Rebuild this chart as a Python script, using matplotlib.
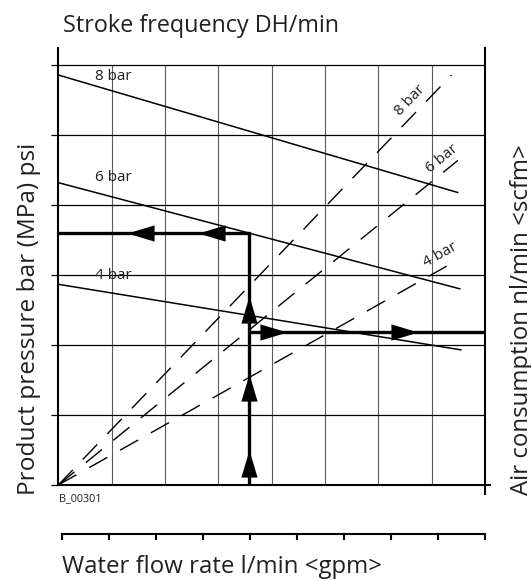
import matplotlib
matplotlib.use("Agg")
import matplotlib.pyplot as plt
import numpy as np
from matplotlib.path import Path
from matplotlib.transforms import Affine2D

# ---------------- data (grid units) ----------------
levels = ["8 bar", "6 bar", "4 bar"]
# product pressure lines (solid)
prod_x0 = [0.0, 0.0, 0.0]
prod_y0 = [5.857, 4.319, 2.867]
prod_x1 = [7.50, 7.54, 7.56]
prod_y1 = [4.176, 2.800, 1.929]
# air consumption lines (dashed), starting at origin
air_x1 = [7.373, 7.49, 7.50]
air_y1 = [5.857, 4.636, 3.22]
# label positions
prod_lab_x = [0.688, 0.688, 0.688]
prod_lab_y = [5.786, 4.347, 2.939]
air_lab_x = [6.594, 7.188, 7.156]
air_lab_y = [5.50, 4.667, 3.286]
# worked example path
ex_flow = 3.57
ex_pressure = 3.595
ex_air = 2.19
up_tips = [0.5, 1.586, 2.70]
left_tips = [2.62, 1.28]
right_tips = [4.28, 6.75]

x_grid = [1, 2, 3, 4, 5, 6, 7]
y_grid = [1, 2, 3, 4, 5, 6]
flow_ticks = list(range(10))

title_top = "Stroke frequency DH/min"
title_bottom = "Water flow rate l/min <gpm>"
title_left = "Product pressure bar (MPa) psi"
title_right = "Air consumption nl/min <scfm>"
code = "B_00301"

# ---------------- figure ----------------
W, H = 531, 581
plt.rcParams["font.family"] = ["Open Sans", "DejaVu Sans"]
TXT = "#231f20"
fig = plt.figure(figsize=(W / 100, H / 100), dpi=100)


def fx(px):
    return px / W


def fy(py):
    return 1 - py / H


L, R, B, T = 58.3, 485.0, 485.0, 48.0
ax = fig.add_axes([fx(L), fy(B), (R - L) / W, (B - T) / H])
ax.set_xlim(0, 8)
ax.set_ylim(0, 6 * (B - T) / (B - 65.0))

ax.vlines(x_grid, 0, 6, colors="#5a5a5a", lw=0.8)
ax.hlines(y_grid, 0, 8, colors="black", lw=0.9)

for s in ["left", "right", "bottom"]:
    ax.spines[s].set_linewidth(1.5)
ax.spines["top"].set_visible(False)
ax.set_yticks(range(0, 7))
ax.set_yticklabels([])
ax.tick_params(axis="y", direction="out", length=4.8, width=0.9, left=True, right=False)
ax.set_xticks([8])
ax.set_xticklabels([])
ax.tick_params(axis="x", direction="out", length=7.2, width=1.5)

axr = ax.twinx()
axr.set_ylim(ax.get_ylim())
axr.set_yticks([0])
axr.set_yticklabels([])
axr.tick_params(axis="y", direction="out", length=4.5, width=1.5)
for s in axr.spines.values():
    s.set_visible(False)

# product pressure lines
for x0, y0, x1, y1 in zip(prod_x0, prod_y0, prod_x1, prod_y1):
    ax.plot([x0, x1], [y0, y1], color="black", lw=1.1, solid_capstyle="butt")
# air consumption lines
for x1, y1 in zip(air_x1, air_y1):
    ax.plot([0, x1], [0, y1], color="black", lw=1.0, linestyle=(0, (15, 10.5)),
            dash_capstyle="butt")

fig.canvas.draw()
inner = []
for lab, x, y in zip(levels, prod_lab_x, prod_lab_y):
    inner.append(ax.text(x, y, lab, ha="left", va="baseline", fontsize=11, color=TXT))
for lab, x, y, x1, y1 in zip(levels, air_lab_x, air_lab_y, air_x1, air_y1):
    p0 = ax.transData.transform((0, 0))
    p1 = ax.transData.transform((x1, y1))
    ang = np.degrees(np.arctan2(p1[1] - p0[1], p1[0] - p0[0]))
    ax.text(x, y, lab, ha="center", va="center", rotation=ang,
            rotation_mode="anchor", fontsize=11, color=TXT)
    inner.append(ax.texts[-1])

# worked example path
lw_ex = 2.4
ax.plot([ex_flow, ex_flow, 0], [0, ex_pressure, ex_pressure], color="black",
        lw=lw_ex, solid_joinstyle="miter", solid_capstyle="butt")
ax.plot([ex_flow, 8], [ex_air, ex_air], color="black", lw=lw_ex,
        solid_capstyle="butt")

head = Path([(0, 0), (-0.3, -1), (0.3, -1), (0, 0)],
            [Path.MOVETO, Path.LINETO, Path.LINETO, Path.CLOSEPOLY])
up = head
left = head.transformed(Affine2D().rotate_deg(90))
right = head.transformed(Affine2D().rotate_deg(-90))
ms = 39
ax.plot([ex_flow] * len(up_tips), up_tips, linestyle="none", marker=up,
        markersize=ms, color="black", markeredgewidth=0)
ax.plot(left_tips, [ex_pressure] * len(left_tips), linestyle="none", marker=left,
        markersize=ms, color="black", markeredgewidth=0)
ax.plot(right_tips, [ex_air] * len(right_tips), linestyle="none", marker=right,
        markersize=ms, color="black", markeredgewidth=0)

# separate flow-rate scale
ax2 = fig.add_axes([fx(62), fy(534), (R - 62) / W, 0.002])
ax2.set_xlim(0, 9)
ax2.set_ylim(0, 1)
ax2.set_xticks(flow_ticks)
ax2.set_xticklabels([])
ax2.set_yticks([])
for s in ["left", "right", "top"]:
    ax2.spines[s].set_visible(False)
ax2.spines["bottom"].set_linewidth(1.5)
ax2.tick_params(axis="x", direction="out", length=4.5, width=1.5)
ax2.patch.set_visible(False)

# titles
t_top = fig.text(fx(63.3), fy(32.3), title_top, ha="left", va="baseline",
                 fontsize=15, color=TXT)
t_bot = fig.text(fx(62), fy(573), title_bottom, ha="left", va="baseline",
                 fontsize=15, color=TXT)
t_left = fig.text(fx(35), fy(495), title_left, ha="left", va="baseline",
                  rotation=90, rotation_mode="anchor", fontsize=15, color=TXT)
t_right = fig.text(fx(528), fy(495), title_right, ha="left", va="baseline",
                   rotation=90, rotation_mode="anchor", fontsize=15, color=TXT)
t_code = fig.text(fx(58.6), fy(500.7), code, ha="left", va="baseline",
                  fontsize=7, color=TXT)


def fit(t, target, vertical=False):
    for _ in range(3):
        fig.canvas.draw()
        bb = t.get_window_extent(fig.canvas.get_renderer())
        cur = bb.height if vertical else bb.width
        t.set_fontsize(t.get_fontsize() * target / cur)


fit(t_top, 277)
fit(t_bot, 321)
fit(t_left, 350, vertical=True)
fit(t_right, 350, vertical=True)
fit(t_code, 43)
for t in inner[:3]:
    fit(t, 36.6)
for t in inner[3:]:
    t.set_fontsize(inner[0].get_fontsize())

fig.savefig("out.png", dpi=100)
